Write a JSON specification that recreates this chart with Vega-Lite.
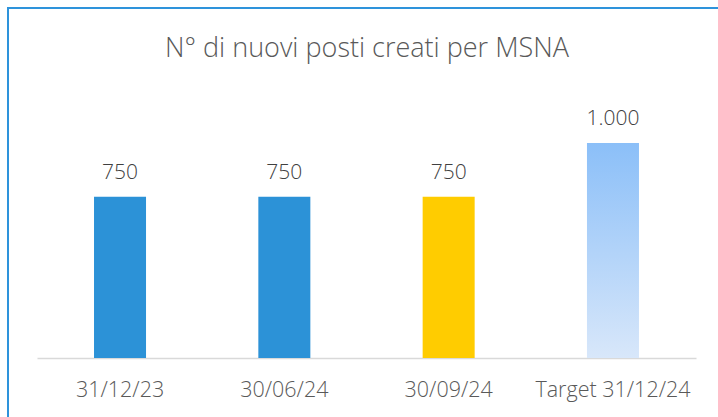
{
  "$schema": "https://vega.github.io/schema/vega-lite/v6.json",
  "autosize": "none",
  "padding": {"left": 8, "top": 8, "right": 0, "bottom": 0},
  "width": 730,
  "height": 420,
  "background": "white",
  "config": {
    "font": "Open Sans",
    "view": {"stroke": "#2E93DB", "strokeWidth": 2}
  },
  "title": {
    "text": "N° di nuovi posti creati per MSNA",
    "fontSize": 27,
    "fontWeight": 300,
    "color": "#595959",
    "font": "Open Sans",
    "anchor": "start",
    "baseline": "alphabetic",
    "dx": 157,
    "offset": -76
  },
  "data": {
    "values": [
      {"periodo": "31/12/23", "posti": 750, "label": "750", "tipo": "a"},
      {"periodo": "30/06/24", "posti": 750, "label": "750", "tipo": "a"},
      {"periodo": "30/09/24", "posti": 750, "label": "750", "tipo": "b"},
      {"periodo": "Target 31/12/24", "posti": 1000, "label": "1.000", "tipo": "t"}
    ]
  },
  "encoding": {
    "x": {
      "field": "periodo",
      "type": "nominal",
      "sort": null,
      "scale": {"range": [29, 688], "paddingInner": 0.6835, "paddingOuter": 0.347},
      "axis": {
        "title": null,
        "orient": "bottom",
        "offset": -70,
        "labelAngle": 0,
        "ticks": false,
        "tickSize": 0,
        "labelPadding": 21,
        "labelFontSize": 21.5,
        "labelFontWeight": 300,
        "labelColor": "#595959",
        "labelFont": "Open Sans",
        "domainColor": "#D9D9D9",
        "domainWidth": 1.5
      }
    },
    "y": {
      "field": "posti",
      "type": "quantitative",
      "scale": {"domain": [0, 1000], "range": [350, 135], "zero": true, "nice": false},
      "axis": null
    }
  },
  "layer": [
    {
      "transform": [{"filter": "datum.tipo != 't'"}],
      "mark": {"type": "bar"},
      "encoding": {
        "color": {
          "field": "tipo",
          "type": "nominal",
          "scale": {"domain": ["a", "b"], "range": ["#2C92D7", "#FFCC00"]},
          "legend": null
        }
      }
    },
    {
      "transform": [{"filter": "datum.tipo == 't'"}],
      "mark": {
        "type": "bar",
        "color": {
          "gradient": "linear",
          "x1": 0, "y1": 0, "x2": 0, "y2": 1,
          "stops": [
            {"offset": 0, "color": "#8BBFF8"},
            {"offset": 1, "color": "#D8E7FA"}
          ]
        }
      }
    },
    {
      "mark": {
        "type": "text",
        "baseline": "alphabetic",
        "dy": -18,
        "fontSize": 21,
        "fontWeight": 300,
        "font": "Open Sans",
        "color": "#404040"
      },
      "encoding": {"text": {"field": "label"}}
    }
  ]
}
